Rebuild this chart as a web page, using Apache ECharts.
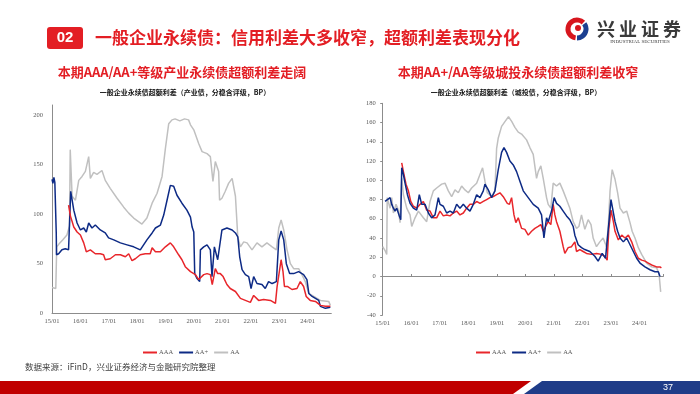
<!DOCTYPE html>
<html><head><meta charset="utf-8">
<script src="https://cdn.jsdelivr.net/npm/echarts@6/dist/echarts.min.js"></script>
<style>html,body{margin:0;padding:0;background:#fff}#c{width:700px;height:394px}</style>
</head><body><div id="c"></div>
<script>
// x values: months since 2015-01
var xTickLabels = ['15/01','16/01','17/01','18/01','19/01','20/01','21/01','22/01','23/01','24/01'];
var seriesNames = ['AAA','AA+','AA'];

// Left chart: 产业债
var leftAAA = [[7.0,109],[7.3,107],[7.8,98],[8.2,97],[9.2,87],[10.6,82],[12,79],[13.4,71],[14.5,62],[16.2,64],[18.3,60],[20.4,60],[21.8,59],[22.5,54],[24.6,55],[26.8,59],[28.9,59],[31,57],[32.4,60],[33.8,53],[35.2,55],[37.3,59],[39.4,60],[41.5,60],[42.3,66],[43.7,62],[45.8,62],[47.9,67],[50,71],[51.4,67],[53.5,59],[54.9,54],[56.3,47],[58.5,42],[60.6,39],[62,34],[64.1,39],[65.5,40],[66.9,39],[67.7,29],[69,45],[70,40],[71.1,40],[72.3,37],[73.9,29],[75.3,25],[77.5,22],[79.6,15],[81.7,13],[83.8,11],[85.2,18],[87.3,13],[89.4,14],[92.3,13],[94.4,10],[95.1,27],[96.8,54],[97.6,42],[98.2,27],[99.6,27],[101.4,24],[103.5,25],[104.9,32],[106.3,27],[107.4,17],[109.1,13],[111.3,12],[113.4,8],[115.5,7],[117.6,7]];
var leftAAplus = [[0,135],[0.4,131],[0.8,137],[1.2,132],[1.6,134],[1.8,81],[1.9,59],[2.8,60],[4.2,64],[5.6,65],[7.0,64],[7.9,123],[9.2,104],[10.6,91],[12,84],[13.4,86],[14.5,82],[15.5,91],[16.9,86],[18.3,89],[20.4,84],[22.5,81],[23.9,76],[26.1,74],[28.9,71],[31.7,69],[34.5,67],[37.3,64],[40.1,74],[42.3,81],[43.7,86],[45.8,89],[47.2,99],[48.6,114],[50,129],[51.4,128],[52.8,119],[54.9,111],[57,104],[58.5,97],[59.2,87],[59.9,82],[60.3,40],[61.3,35],[62.4,32],[62.7,64],[64.1,67],[65.5,69],[66.9,64],[67.6,37],[68.6,67],[69.4,69],[70,54],[70.8,52],[71.8,84],[73.9,86],[76.1,84],[77.5,81],[78.5,77],[79.3,57],[80.3,44],[81.7,39],[83.1,37],[84.1,25],[85.2,37],[86.6,30],[88.7,29],[90.1,25],[91.5,32],[93,30],[94.8,32],[95.8,74],[96.8,83],[97.9,74],[99,50],[100.4,40],[102.1,40],[104.2,42],[106.3,39],[107.7,34],[108.5,20],[109.9,17],[111.3,15],[112.7,13],[113.4,7],[115.5,5],[117.6,6]];
var leftAA = [[0,26],[1.6,25],[2.0,67],[3,70],[4.5,74],[6.3,79],[7.0,80],[7.4,88],[7.7,165],[8.5,118],[9.9,114],[11.3,134],[12.7,138],[14.1,143],[15.5,158],[16.2,136],[17.6,142],[19.0,140],[21.1,144],[22.5,134],[24.6,126],[27.5,116],[30.3,107],[32.4,101],[34.5,96],[38.0,90],[40.1,96],[42.3,111],[44.4,121],[46.5,138],[47.9,166],[49.3,191],[50.7,195],[52,196],[54,194],[56,196],[57.7,195],[58.5,190],[59.9,185],[62,171],[63.4,163],[65.5,161],[66.9,158],[68.0,133],[69.0,153],[69.7,151],[70.4,143],[70.8,114],[71.8,116],[73.2,123],[74.6,131],[76.1,136],[76.8,134],[77.5,118],[78.5,77],[79.6,67],[81,72],[82.4,71],[84.5,64],[86.6,71],[88.7,67],[90.8,71],[93,67],[94.8,64],[95.8,86],[96.8,94],[97.9,84],[99.3,64],[100.7,50],[102.1,45],[104.2,45],[105.6,39],[107,32],[108.5,20],[110.6,17],[113.4,13],[116.9,12],[117.6,8]];

// Right chart: 城投债
var rightAAA = [[8.0,118],[8.7,109],[9.8,96],[10.8,89],[11.8,78],[12.9,73],[14.3,71],[15.7,75],[17.1,78],[18.5,69],[19.9,68],[21.3,61],[22.7,61],[24.1,68],[25.5,63],[26.9,64],[28.3,63],[29.7,66],[31.1,68],[32.5,64],[33.9,66],[35.3,71],[36.7,75],[38.1,75],[39.5,78],[40.9,76],[42.3,78],[43.7,80],[45.1,82],[46.5,83],[47.9,85],[49.3,87],[50.7,83],[51.4,85],[52.4,76],[53.3,75],[54.2,82],[55.2,64],[56,56],[57,61],[58.4,50],[59.8,49],[61.2,43],[62.6,47],[64,50],[65.4,52],[66.5,54],[67.5,47],[68.5,52],[69.6,57],[70.7,54],[71.7,75],[72.4,64],[73.1,57],[74.5,47],[75.9,31],[76.6,24],[78,30],[79.4,31],[80.8,36],[81.5,26],[82.9,28],[84.3,26],[85.7,24],[87.8,23],[89.9,24],[92,23],[93.4,21],[94.4,17],[95.1,50],[96,69],[97,57],[97.7,47],[99.1,38],[100.5,43],[101.9,40],[103.3,43],[104.7,36],[106.1,26],[107.5,19],[108.9,17],[110.3,16],[111.7,14],[113.1,12],[115.2,10],[116.6,10],[117.2,9]];
var rightAAplus = [[1.0,78],[1.7,80],[3.1,82],[3.8,75],[4.5,71],[5.2,68],[5.9,71],[7.0,63],[7.6,59],[8.0,113],[8.7,106],[9.4,97],[10.4,85],[11.5,76],[12.9,71],[14.3,69],[15.4,85],[16.4,75],[17.8,75],[19.2,66],[20.6,61],[22,64],[23.4,82],[24.1,75],[25.5,73],[26.9,66],[28.3,68],[29.7,66],[31.1,75],[32.5,71],[33.9,75],[35.3,71],[36.7,68],[38.1,75],[39.5,85],[40.9,82],[42.3,89],[43,96],[44.4,90],[45.8,82],[47.2,89],[48.6,111],[50,129],[51,134],[52.1,129],[53.5,120],[54.9,116],[56.3,109],[57.7,99],[59.1,89],[61.2,82],[63.3,75],[65.4,71],[66.8,64],[67.8,40],[68.9,61],[69.6,57],[71,68],[72.1,82],[73.1,76],[74.5,73],[75.9,68],[77.3,63],[78.7,59],[80.1,52],[80.8,43],[82.2,33],[83.6,30],[85,28],[87.1,26],[89.2,21],[90.6,16],[92.3,24],[93.7,19],[94.9,50],[96,80],[96.7,78],[97.7,57],[98.8,47],[99.8,40],[101.2,36],[102.6,40],[104,33],[105.4,26],[106.8,19],[108.2,14],[110.3,10],[112.4,7],[114.5,5],[115.9,5],[116.6,0]];
var rightAA = [[0,31],[1.0,27],[1.7,23],[1.9,82],[3.1,71],[3.8,82],[4.5,66],[5.6,75],[6.6,69],[7.3,56],[8.0,102],[8.7,85],[10.1,71],[11.5,64],[12.2,52],[13.6,61],[15,68],[17.1,61],[18.5,57],[19.9,78],[21.3,89],[22.7,92],[24.8,96],[26.2,97],[27.6,89],[29,83],[30.4,90],[31.8,87],[33.2,94],[34.6,90],[36,87],[37.4,92],[39.5,97],[40.9,106],[42,113],[43,99],[44,87],[45.8,83],[47.2,89],[47.9,133],[48.6,144],[50,156],[51.4,161],[52.9,166],[54.3,161],[55.6,155],[57,150],[58.4,148],[60.5,142],[61.9,134],[63.3,127],[64.7,102],[65.4,109],[66.5,115],[67.5,102],[68.9,82],[69.6,75],[70.7,71],[71.7,97],[73.1,94],[74.5,97],[75.9,89],[77.3,80],[78.7,71],[80.1,57],[81.5,50],[82.5,52],[83.6,64],[85,49],[86.4,59],[87.6,54],[88.5,40],[89.9,31],[91.3,36],[92.7,40],[94.1,31],[94.9,54],[95.6,89],[96.5,111],[97.7,101],[98.8,87],[99.8,71],[101.2,66],[102.6,68],[104,56],[104.9,47],[106.1,40],[107.5,30],[108.9,23],[111,14],[113.1,10],[115.2,9],[116.2,3],[116.9,-16]];

var colors = {AAA:'#e8262b','AA+':'#0d2a85',AA:'#c0c0c0'};
var axisFont = {fontFamily:'Liberation Serif', fontSize:6.5, color:'#595959'};
var axisLineStyle = {lineStyle:{color:'#8c8c8c', width:1}};
var xFmt = function(v){ return (v % 12 === 0 && xTickLabels[v/12]) ? xTickLabels[v/12] : ''; };

function mkSeries(name, data, xi, yi, z){
  return {name:name, type:'line', data:data, xAxisIndex:xi, yAxisIndex:yi, showSymbol:false, symbol:'none',
    lineStyle:{width:1.5, color:colors[name]}, itemStyle:{color:colors[name]}, z:z, animation:false};
}

var chart = echarts.init(document.getElementById('c'), null, {renderer:'canvas'});
var redT = '#e31e24';
chart.setOption({
  animation:false,
  grid:[
    {left:52, top:105, width:279.3, height:208.3, containLabel:false},
    {left:382.7, top:103.3, width:280.6, height:211.7, containLabel:false}
  ],
  xAxis:[
    {type:'value', gridIndex:0, min:0, max:118, interval:12, splitLine:{show:false},
      axisLine:axisLineStyle, axisTick:{show:false},
      axisLabel:Object.assign({formatter:xFmt, margin:4, showMaxLabel:false}, axisFont)},
    {type:'value', gridIndex:1, min:0, max:118, interval:12, splitLine:{show:false},
      axisLine:{show:false, onZero:false}, axisTick:{show:false},
      axisLabel:Object.assign({formatter:xFmt, margin:5, showMaxLabel:false}, axisFont)},
    {type:'value', gridIndex:1, min:0, max:118, interval:12, splitLine:{show:false},
      axisLine:{show:true, onZero:true, lineStyle:{color:'#8c8c8c', width:1}},
      axisTick:{show:true, length:2.5, lineStyle:{color:'#8c8c8c'}}, axisLabel:{show:false}}
  ],
  yAxis:[
    {type:'value', gridIndex:0, min:0, max:210, interval:50, splitLine:{show:false},
      axisLine:Object.assign({show:true}, axisLineStyle), axisTick:{show:false},
      axisLabel:Object.assign({margin:9, formatter:function(v){return v%50===0?String(v):'';}}, axisFont)},
    {type:'value', gridIndex:1, min:-40, max:180, interval:20, splitLine:{show:false},
      axisLine:Object.assign({show:true}, axisLineStyle), axisTick:{show:true, length:2.5, lineStyle:{color:'#8c8c8c'}},
      axisLabel:Object.assign({margin:7}, axisFont)}
  ],
  legend:[
    {left:138, top:344, itemWidth:14, itemHeight:2, itemGap:6, icon:'rect', data:seriesNames,
      textStyle:{fontFamily:'Liberation Serif', fontSize:6.5, color:'#595959', padding:[0,0,0,-3]}, selectedMode:false},
    {left:471, top:344, itemWidth:14, itemHeight:2, itemGap:6, icon:'rect', data:seriesNames,
      textStyle:{fontFamily:'Liberation Serif', fontSize:6.5, color:'#595959', padding:[0,0,0,-3]}, selectedMode:false}
  ],
  series:[
    mkSeries('AA', leftAA, 0, 0, 1),
    mkSeries('AA+', leftAAplus, 0, 0, 2),
    mkSeries('AAA', leftAAA, 0, 0, 3),
    mkSeries('AA', rightAA, 1, 1, 1),
    mkSeries('AAA', rightAAA, 1, 1, 2),
    mkSeries('AA+', rightAAplus, 1, 1, 3)
  ],
  graphic:[
    {type:'rect', shape:{x:47, y:27, width:36, height:22, r:3}, style:{fill:redT}},
    {type:'text', x:65, y:38, style:{text:'02', fill:'#fff', font:'bold 15px "Liberation Sans", Arial', textAlign:'center', textVerticalAlign:'middle'}},
    {type:'text', x:95, y:38, style:{text:'一般企业永续债：信用利差大多收窄，超额利差表现分化', fill:redT, font:'bold 17px "Noto Sans CJK SC"', textVerticalAlign:'middle'}},
    // logo
    {type:'arc', shape:{cx:577, cy:29, r:9, startAngle:Math.PI*0.55, endAngle:Math.PI*1.75}, style:{stroke:'#d7161e', lineWidth:5, fill:null}},
    {type:'arc', shape:{cx:577, cy:29, r:9, startAngle:-Math.PI*0.2, endAngle:Math.PI*0.5}, style:{stroke:'#1b3f91', lineWidth:5, fill:null}},
    {type:'circle', shape:{cx:578, cy:28, r:3}, style:{fill:'#d7161e'}},
    {type:'text', x:597, y:29, style:{text:'兴', fill:'#3a3a3a', font:'bold 18px "Noto Sans CJK SC"', textVerticalAlign:'middle'}},
    {type:'text', x:619, y:29, style:{text:'业', fill:'#3a3a3a', font:'bold 18px "Noto Sans CJK SC"', textVerticalAlign:'middle'}},
    {type:'text', x:641, y:29, style:{text:'证', fill:'#3a3a3a', font:'bold 18px "Noto Sans CJK SC"', textVerticalAlign:'middle'}},
    {type:'text', x:663, y:29, style:{text:'券', fill:'#3a3a3a', font:'bold 18px "Noto Sans CJK SC"', textVerticalAlign:'middle'}},
    {type:'text', x:640, y:42, style:{text:'INDUSTRIAL SECURITIES', fill:'#3a3a3a', font:'5px "Liberation Serif"', textAlign:'center', textVerticalAlign:'middle'}},
    // subtitles
    {type:'text', x:182, y:72, style:{text:'本期AAA/AA+等级产业永续债超额利差走阔', fill:redT, font:'bold 13px "Noto Sans CJK SC"', textAlign:'center', textVerticalAlign:'middle'}},
    {type:'text', x:518, y:72, style:{text:'本期AA+/AA等级城投永续债超额利差收窄', fill:redT, font:'bold 13px "Noto Sans CJK SC"', textAlign:'center', textVerticalAlign:'middle'}},
    {type:'text', x:185, y:92, style:{text:'一般企业永续债超额利差（产业债，分稳含评级，BP）', fill:'#111', font:'bold 7px "Noto Sans CJK SC"', textAlign:'center', textVerticalAlign:'middle'}},
    {type:'text', x:516, y:92, style:{text:'一般企业永续债超额利差（城投债，分稳含评级，BP）', fill:'#111', font:'bold 7px "Noto Sans CJK SC"', textAlign:'center', textVerticalAlign:'middle'}},
    // source
    {type:'text', x:25, y:367, style:{text:'数据来源：iFinD，兴业证券经济与金融研究院整理', fill:'#404040', font:'8.5px "Noto Sans CJK SC"', textVerticalAlign:'middle'}},
    // footer bar
    {type:'polygon', shape:{points:[[0,381],[531,381],[513,394],[0,394]]}, style:{fill:'#c00000'}},
    {type:'polygon', shape:{points:[[542,381],[700,381],[700,394],[524,394]]}, style:{fill:'#1f3c88'}},
    {type:'text', x:668, y:388, style:{text:'37', fill:'#fff', font:'9px "Liberation Sans"', textAlign:'center', textVerticalAlign:'middle'}}
  ]
});
</script></body></html>
